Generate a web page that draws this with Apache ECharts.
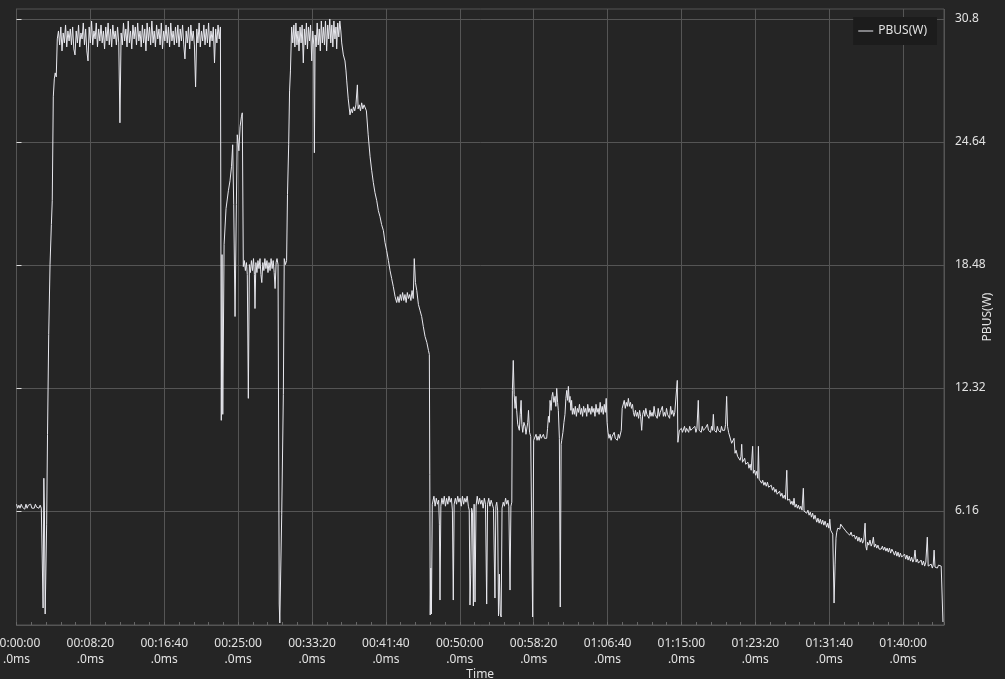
<!DOCTYPE html>
<html>
<head>
<meta charset="utf-8">
<script src="https://cdn.jsdelivr.net/npm/echarts@6/dist/echarts.min.js"></script>
<style>
html,body{margin:0;padding:0;background:#252525;}
#chart{width:1005px;height:679px;}
</style>
</head>
<body>
<div id="chart"></div>
<script>
// ---- data: [time in seconds, PBUS in W] ----
const seriesName = 'PBUS(W)';
const yTickValues = [6.16, 12.32, 18.48, 24.64, 30.8];
const xMaxSeconds = 6277;
const xTickStep = 500;

const idleStart = [[0,6.5],[8,6.3],[16,6.45],[24,6.3],[32,6.5],[40,6.35],[48,6.4],[56,6.25],[64,6.5],[72,6.3],[80,6.45],[88,6.35],[96,6.5],[104,6.3],[112,6.4],[120,6.3],[128,6.5],[136,6.35],[144,6.4],[152,6.3],[160,6.45],[168,6.3],[176,6.4]];
const rampUp = [[180,1.3],[185,7.8],[189,6.2],[194,1.0],[198,0.9],[204,5.5],[210,10],[218,15],[227,18.5],[236,20.5],[242,21.7],[249,26.9],[256,27.8],[262,28.1],[269,27.9],[276,29.8]];
const plateau1 = [[284,30.2],[292,29.5],[300,30.4],[308,29.2],[316,30.1],[324,29.6],[332,30.5],[340,29.4],[348,30.2],[356,29.7],[364,30.3],[372,29.5],[380,30.4],[388,29.3],[396,29.0],[404,30.2],[412,29.6],[420,30.5],[428,29.4],[436,30.1],[444,29.8],[452,30.6],[460,29.5],[468,30.3],[476,29.2],[484,28.7],[492,30.4],[500,29.6],[508,30.7],[516,29.5],[524,30.2],[532,29.8],[540,30.6],[548,29.4],[556,30.3],[564,29.7],[572,30.5],[580,29.6],[588,30.2],[596,29.3],[604,30.4],[612,29.7],[620,30.6],[628,29.5],[636,30.3],[644,29.4],[652,30.5],[660,29.8],[668,30.2],[676,29.5],[684,30.4],[692,29.6],[700,25.6],[708,30.1],[716,29.5],[724,30.6],[732,29.7],[740,30.3],[748,29.4],[756,30.7],[764,29.6],[772,30.2],[780,29.3],[788,30.5],[796,29.8],[804,30.4],[812,29.5],[820,30.6],[828,29.7],[836,30.2],[844,29.4],[852,30.5],[860,29.6],[868,30.3],[876,29.2],[884,30.6],[892,29.7],[900,30.4],[908,29.5],[916,30.7],[924,29.6],[932,30.2],[940,29.4],[948,30.5],[956,29.8],[964,30.3],[972,29.5],[980,30.6],[988,29.3],[996,30.2],[1004,29.7],[1012,30.5],[1020,29.6],[1028,30.4],[1036,29.4],[1044,30.6],[1052,29.7],[1060,30.2],[1068,29.5],[1076,30.4],[1084,29.6],[1092,30.5],[1100,29.4],[1108,30.3],[1116,29.7],[1124,30.5],[1132,29.5],[1140,28.8],[1148,30.2],[1156,29.6],[1164,30.4],[1172,29.3],[1180,30.5],[1188,29.7],[1196,30.2],[1204,29.5],[1212,27.4],[1220,30.3],[1228,29.6],[1236,30.6],[1244,29.4],[1252,30.2],[1260,29.7],[1268,30.5],[1276,29.5],[1284,30.3],[1292,29.6],[1300,30.6],[1308,29.4],[1316,30.2],[1324,29.7],[1332,30.4],[1340,28.6],[1348,30.3],[1356,29.6],[1364,30.5],[1372,29.8],[1380,30.4]];
const breakdown = [[1386,10.7],[1391,19.0],[1396,11.0],[1405,19.5],[1418,21.3],[1434,22.2],[1445,22.7],[1455,23.4],[1463,24.5],[1470,21.5],[1479,15.9],[1488,21.5],[1494,25.0],[1505,24.2],[1513,25.4],[1522,25.9],[1528,26.1],[1535,18.4]];
const midPlateau = [[1542,18.7],[1549,18.2],[1556,18.6],[1562,18.0],[1569,11.8],[1576,18.5],[1583,18.1],[1590,18.7],[1597,18.2],[1604,18.8],[1610,18.0],[1614,16.3],[1620,18.6],[1627,18.1],[1634,18.7],[1641,18.3],[1648,18.8],[1654,18.0],[1660,17.6],[1667,18.6],[1674,18.2],[1681,18.8],[1688,18.3],[1695,18.7],[1702,18.1],[1709,18.6],[1716,18.2],[1723,18.8],[1730,18.3],[1737,18.7],[1744,18.1],[1750,17.3],[1757,18.6],[1763,18.8],[1770,18.5],[1774,18.4],[1778,1.5],[1782,0.55],[1795,6],[1806,12],[1812,18.8],[1820,18.5],[1828,18.7],[1834,22],[1842,24.5],[1848,27.2],[1854,28.2],[1862,30.4]];
const plateau2 = [[1870,29.6],[1877,30.5],[1884,29.4],[1891,30.6],[1898,29.5],[1905,30.2],[1912,29.2],[1919,30.4],[1926,29.6],[1933,30.5],[1941,28.6],[1948,30.3],[1955,29.5],[1962,30.6],[1969,29.3],[1976,30.4],[1983,29.7],[1990,30.5],[1998,28.7],[2005,30.2],[2012,29.5],[2016,24.1],[2021,30.0],[2028,29.4],[2035,30.6],[2042,29.5],[2049,30.3],[2056,29.2],[2063,30.7],[2070,29.6],[2077,30.4],[2084,29.5],[2091,30.7],[2099,29.2],[2106,30.5],[2113,29.8],[2120,30.8],[2127,29.6],[2134,30.5],[2141,29.4],[2148,30.7],[2155,29.8],[2162,30.4],[2167,29.3],[2174,30.6],[2181,29.9],[2188,30.7],[2195,30.2]];
const decline = [[2201,29.6],[2212,29.0],[2223,28.7],[2230,28.2],[2235,27.7],[2245,26.8],[2257,26.0],[2265,26.3],[2273,26.1],[2281,26.4],[2289,26.2],[2297,26.5],[2307,27.5],[2312,26.3],[2320,26.5],[2328,26.2],[2336,26.6],[2344,26.3],[2352,26.5],[2360,26.6],[2368,26.2],[2380,25.0],[2393,23.9],[2404,23.2],[2415,22.6],[2426,22.1],[2438,21.7],[2449,21.2],[2460,20.9],[2471,20.5],[2483,20.2],[2494,19.6],[2505,19.2],[2517,18.7],[2528,18.2],[2539,17.8],[2550,17.4],[2562,16.9],[2573,16.6],[2581,16.9],[2589,16.6],[2597,17.0],[2605,16.7],[2613,17.1],[2621,16.7],[2629,17.0],[2637,16.6],[2645,17.1],[2653,16.8],[2661,17.0],[2669,16.7],[2677,17.2],[2685,16.8],[2692,18.8],[2700,17.6],[2709,17.2],[2720,16.5],[2731,16.2],[2742,15.9],[2753,15.4],[2765,14.9],[2777,14.6],[2788,14.2],[2794,14.0]];
const lowPlateau = [[2797,8],[2800,0.95],[2804,3.3],[2808,1.0],[2814,6.5],[2817,6.6],[2825,6.9],[2833,6.4],[2841,6.8],[2849,6.5],[2857,6.7],[2862,5.5],[2866,1.7],[2872,6.4],[2879,6.8],[2887,6.5],[2895,6.9],[2903,6.4],[2911,6.8],[2919,6.5],[2927,6.9],[2935,6.6],[2943,6.8],[2950,6.2],[2956,1.7],[2962,6.5],[2970,6.8],[2978,6.5],[2986,6.9],[2994,6.6],[3002,6.8],[3010,6.4],[3018,6.9],[3026,6.5],[3034,6.8],[3042,6.6],[3050,6.9],[3058,6.4],[3064,6.2],[3069,1.45],[3074,3.0],[3080,6.3],[3086,6.1],[3092,1.4],[3097,6.5],[3103,1.6],[3110,6.4],[3118,6.9],[3126,6.5],[3134,6.8],[3142,6.5],[3150,6.7],[3158,6.3],[3166,6.8],[3174,6.5],[3182,1.5],[3188,6.5],[3196,6.8],[3204,6.4],[3212,6.7],[3220,6.5],[3228,6.3],[3238,1.8],[3244,6.4],[3250,6.6],[3256,6.2],[3262,0.9],[3268,3.0],[3274,1.0],[3280,0.85],[3286,6.3],[3294,6.6],[3302,6.4],[3310,6.8],[3318,6.5],[3326,6.7],[3332,6.4],[3340,2.2],[3346,6.4],[3352,6.6]];
const recovery = [[3356,12.2],[3362,13.7],[3368,12.0],[3374,11.3],[3380,11.9],[3385,11.2],[3392,10.5],[3403,10.2],[3409,11.0],[3415,11.7],[3420,10.5],[3426,10.1],[3434,10.6],[3442,10.4],[3448,10.0],[3453,10.1],[3460,10.6],[3465,11.2],[3472,10.1],[3480,9.9],[3487,9.95],[3493,0.85],[3500,9.7],[3509,9.8],[3516,10.0],[3523,9.7],[3530,9.9],[3537,9.7],[3544,10.0],[3551,9.8],[3558,9.7],[3566,10.0],[3573,9.8],[3580,9.9],[3588,9.8],[3594,10.3],[3600,10.9],[3606,10.6],[3611,11.7],[3618,11.2],[3624,11.9],[3629,12.1],[3637,11.6],[3645,11.9],[3650,11.4],[3656,12.3],[3662,11.6],[3667,11.2],[3674,9.8],[3680,1.35],[3686,9.5],[3690,9.7],[3698,10.1],[3705,10.6],[3712,11.0],[3718,11.8],[3724,12.2],[3730,11.7],[3735,12.4],[3741,11.6],[3746,11.9],[3752,11.2],[3757,11.7],[3762,11.0],[3768,11.3]];
const steadyA = [[3775,11.0],[3782,11.4],[3789,10.9],[3796,11.3],[3803,11.1],[3810,11.5],[3817,11.0],[3824,11.3],[3831,10.9],[3838,11.4],[3845,11.1],[3852,11.3],[3859,10.9],[3866,11.5],[3873,11.1],[3880,11.3],[3887,11.0],[3894,11.4],[3901,11.1],[3908,11.3],[3915,10.9],[3922,11.5],[3929,11.1],[3936,11.3],[3943,11.0],[3950,11.6],[3957,11.1],[3964,11.4],[3971,11.0],[3978,11.5],[3985,11.1],[3991,11.8],[3997,10.6],[4003,10.1],[4010,9.8],[4017,10.0],[4024,9.7],[4031,9.9],[4038,9.8],[4045,10.1],[4052,9.8],[4059,9.9],[4066,9.7],[4073,10.0],[4080,9.8],[4087,9.9],[4093,10.2],[4099,11.3],[4107,11.4],[4113,11.7],[4120,11.3],[4127,11.6],[4134,11.4],[4141,11.8],[4148,11.4],[4155,11.6],[4162,11.3],[4169,11.5],[4175,11.1]];
const steadyB = [[4182,10.9],[4189,11.2],[4196,10.9],[4203,11.1],[4210,10.8],[4217,11.2],[4224,10.9],[4231,10.2],[4238,11.0],[4245,11.2],[4252,10.9],[4259,11.3],[4266,11.0],[4273,11.1],[4280,10.8],[4287,11.2],[4294,10.9],[4301,11.1],[4308,10.9],[4315,11.4],[4322,11.0],[4329,11.1],[4336,10.8],[4343,11.3],[4350,10.9],[4357,11.1],[4364,11.0],[4371,11.4],[4378,10.9],[4385,11.1],[4392,10.9],[4399,11.3],[4406,11.0],[4413,11.1],[4420,10.8],[4427,11.4],[4434,11.0],[4441,11.2],[4448,10.9],[4455,11.1],[4462,11.0],[4468,11.1],[4472,12.7],[4476,9.6],[4479,9.7]];
const steadyC = [[4486,10.2],[4493,10.1],[4500,10.3],[4507,10.1],[4514,10.2],[4521,10.4],[4528,10.1],[4535,10.3],[4542,10.2],[4549,10.1],[4556,10.4],[4563,10.2],[4570,10.1],[4577,10.3],[4584,10.2],[4591,10.4],[4598,10.1],[4605,10.3],[4614,11.7],[4620,10.2],[4627,10.3],[4634,10.1],[4641,10.4],[4648,10.2],[4655,10.1],[4662,10.3],[4669,10.2],[4676,10.5],[4683,10.2],[4690,10.3],[4697,10.1],[4704,10.4],[4710,10.2],[4716,11.0],[4722,10.2],[4729,10.3],[4736,10.1],[4743,10.4],[4750,10.2],[4757,10.3],[4764,10.1],[4771,10.4],[4778,10.2],[4785,10.3],[4792,10.2],[4799,10.5],[4806,11.9],[4812,10.4],[4819,10.1],[4829,10.0],[4840,9.55],[4851,9.6],[4856,9.8],[4863,9.05],[4870,9.2],[4880,8.9],[4889,8.8],[4897,8.7],[4903,8.9],[4908,9.5],[4913,8.6]];
const tailDecay = [[4920,8.6],[4928,8.8],[4935,8.5],[4942,8.4],[4950,8.6],[4957,8.3],[4965,8.5],[4972,8.2],[4982,9.4],[4987,8.05],[4995,8.2],[5002,7.95],[5010,8.15],[5016,7.8],[5021,9.4],[5026,7.75],[5034,7.8],[5043,7.55],[5050,7.7],[5058,7.45],[5066,7.6],[5074,7.4],[5082,7.6],[5090,7.35],[5100,7.3],[5108,7.45],[5116,7.2],[5124,7.35],[5132,7.1],[5140,7.25],[5148,7.0],[5156,6.95],[5164,7.15],[5172,6.9],[5180,7.05],[5188,6.8],[5196,6.95],[5204,6.75],[5213,8.2],[5218,6.7],[5224,6.6],[5232,6.75],[5240,6.5],[5248,6.65],[5256,6.45],[5262,6.8],[5269,6.35],[5277,6.5],[5285,6.3],[5292,6.45],[5300,6.25],[5308,6.4],[5316,6.2],[5325,7.3],[5330,6.15],[5338,6.2],[5348,6.05],[5356,6.2],[5364,5.95],[5372,6.1],[5380,5.85],[5388,6.05],[5396,5.75],[5404,5.95],[5416,5.6],[5424,5.8],[5432,5.55],[5440,5.75],[5448,5.5],[5456,5.7],[5464,5.45],[5472,5.65],[5483,5.35],[5490,5.55],[5498,5.3],[5504,5.75],[5510,5.2],[5517,5.1],[5524,5.0],[5533,1.55],[5540,3.5],[5546,4.8],[5551,5.1],[5558,5.3],[5565,5.4],[5572,5.25],[5578,5.5],[5585,5.55],[5592,5.35],[5600,5.3],[5608,5.2],[5616,5.3],[5624,5.05],[5632,5.15],[5640,4.95],[5648,5.1],[5656,4.9],[5663,4.8],[5670,4.95],[5678,4.75],[5686,4.9],[5694,4.65],[5702,4.85],[5710,4.6],[5718,4.8],[5726,4.55],[5734,4.7],[5743,5.55],[5748,4.4],[5754,4.2],[5760,4.6],[5768,4.45],[5776,4.7],[5784,4.4],[5792,4.55],[5799,4.85],[5806,4.35],[5814,4.5],[5822,4.3],[5830,4.45],[5838,4.25],[5844,4.35],[5852,4.25],[5860,4.4],[5868,4.2],[5876,4.35],[5884,4.15],[5892,4.3],[5900,4.1],[5908,4.3],[5916,4.05],[5924,4.25],[5934,4.1],[5942,3.95],[5950,4.15],[5958,3.9],[5966,4.1],[5974,3.85],[5982,4.05],[5990,3.85],[6002,3.85],[6010,4.0],[6018,3.75],[6026,3.95],[6034,3.7],[6042,3.9],[6050,3.65],[6058,3.85],[6066,3.6],[6074,3.75],[6081,4.2],[6088,3.6],[6096,3.75],[6104,3.55],[6115,3.55],[6122,3.7],[6130,3.45],[6138,3.65],[6146,3.4],[6154,3.6],[6164,4.85],[6170,3.4],[6176,3.5],[6183,3.3],[6190,3.5],[6198,3.3],[6204,3.45],[6210,4.2],[6216,3.35],[6224,3.45],[6232,3.3],[6240,3.45],[6251,3.35],[6258,3.4],[6264,3.3],[6270,0.6]];

const pbusData = [].concat(idleStart, rampUp, plateau1, breakdown, midPlateau, plateau2, decline,
  lowPlateau, recovery, steadyA, steadyB, steadyC, tailDecay);

function pad(n){ return (n < 10 ? '0' : '') + n; }
function timeLabel(v){
  const s = Math.round(v);
  const h = Math.floor(s / 3600), m = Math.floor((s % 3600) / 60), sec = s % 60;
  return pad(h) + ':' + pad(m) + ':' + pad(sec) + '\n.0ms';
}

const FONT = 'Noto Sans';
const GRID_COLOR = '#555555';
const TEXT_COLOR = '#e2e2e2';

const chart = echarts.init(document.getElementById('chart'), null, {renderer: 'canvas'});
chart.setOption({
  backgroundColor: '#252525',
  animation: false,
  textStyle: {fontFamily: FONT},
  grid: {left: 16.5, right: 61, top: 9, bottom: 54, show: true, borderColor: GRID_COLOR, borderWidth: 1,
    containLabel: false, outerBoundsMode: 'none'},
  legend: {
    right: 68, top: 17,
    backgroundColor: '#1c1c1c',
    padding: [8, 10, 8, 5],
    icon: 'rect',
    itemWidth: 15, itemHeight: 1, itemGap: 5,
    textStyle: {color: TEXT_COLOR, fontSize: 12, fontFamily: FONT},
    data: [seriesName]
  },
  xAxis: {
    type: 'value', min: 0, max: xMaxSeconds, interval: xTickStep,
    name: 'Time', nameLocation: 'middle', nameGap: 44, nameMoveOverlap: false,
    nameTextStyle: {color: TEXT_COLOR, fontSize: 12, fontFamily: FONT},
    axisLine: {show: true, onZero: false, lineStyle: {color: GRID_COLOR}},
    axisTick: {show: true, inside: true, length: 3, lineStyle: {color: '#666'}},
    minorTick: {show: true, splitNumber: 5, length: 3, lineStyle: {color: '#666'}},
    splitLine: {show: true, lineStyle: {color: GRID_COLOR, width: 1}},
    axisLabel: {color: TEXT_COLOR, fontSize: 12, lineHeight: 16, margin: 11, fontFamily: FONT,
      showMaxLabel: false, hideOverlap: false, formatter: timeLabel}
  },
  yAxis: {
    type: 'value', position: 'right', min: 0.45, max: 31.3,
    name: 'PBUS(W)', nameLocation: 'middle', nameRotate: 90, nameGap: 38, nameMoveOverlap: false,
    nameTextStyle: {color: TEXT_COLOR, fontSize: 12, fontFamily: FONT},
    axisLine: {show: true, lineStyle: {color: GRID_COLOR}},
    axisTick: {show: true, length: 5, customValues: yTickValues, lineStyle: {color: '#dddddd'}},
    axisLabel: {customValues: yTickValues, color: TEXT_COLOR, fontSize: 12, margin: 11, fontFamily: FONT},
    splitLine: {show: true, lineStyle: {color: GRID_COLOR, width: 1}}
  },
  series: [{
    name: seriesName,
    type: 'line',
    data: pbusData,
    symbol: 'none',
    showSymbol: false,
    sampling: 'none',
    lineStyle: {color: '#e8e8ee', width: 1},
    itemStyle: {color: '#e8e8ee'}
  }]
});
</script>
</body>
</html>
